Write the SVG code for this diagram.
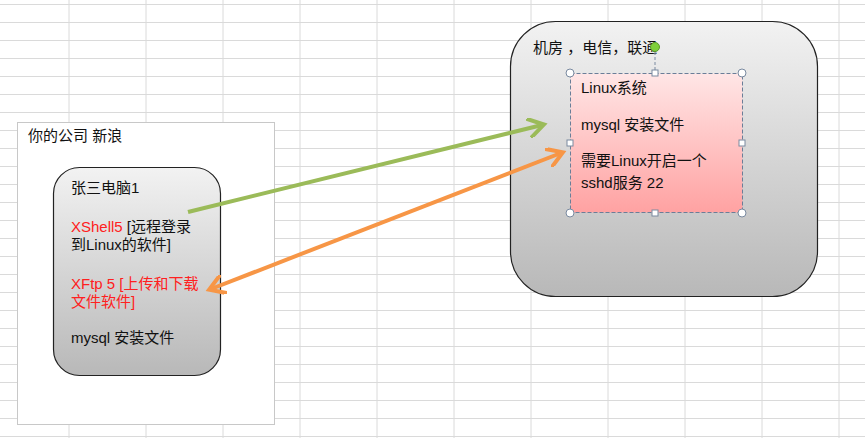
<svg xmlns="http://www.w3.org/2000/svg" width="865" height="438" viewBox="0 0 865 438">
<style>
.t{font-family:"Liberation Sans","Noto Sans CJK SC",sans-serif;font-size:15px;fill:#111}
.r{fill:#ff2020}
.g{stroke:#dadada;stroke-width:1}
.h{fill:#fff;stroke:#7a8aa0;stroke-width:1}
</style>
<defs>
<linearGradient id="gg" x1="0" y1="0" x2="0" y2="1"><stop offset="0" stop-color="#f2f2f2"/><stop offset="1" stop-color="#b8b8b8"/></linearGradient>
<linearGradient id="pg" x1="0" y1="0" x2="0" y2="1"><stop offset="0" stop-color="#ffe6e6"/><stop offset="1" stop-color="#ffa2a2"/></linearGradient>
<marker id="ag" viewBox="0 0 10 10" refX="7" refY="5" markerWidth="5" markerHeight="5" orient="auto-start-reverse"><path d="M0,0 L8,5 L0,10" fill="none" stroke="#9bbb59" stroke-width="2"/></marker>
<marker id="ao" viewBox="0 0 10 10" refX="7" refY="5" markerWidth="5" markerHeight="5" orient="auto-start-reverse"><path d="M0,0 L8,5 L0,10" fill="none" stroke="#f79646" stroke-width="2"/></marker>
</defs>
<rect width="865" height="438" fill="#fff"/>
<g id="grid">
<path class="g" d="M69,0V438M146,0V438M223,0V438M300,0V438M377,0V438M454,0V438M531,0V438M608,0V438M685,0V438M762,0V438M839,0V438"/>
<path class="g" d="M0,4.5H865M0,22.5H865M0,40.5H865M0,58.5H865M0,76.5H865M0,94.5H865M0,112.5H865M0,130.5H865M0,148.5H865M0,166.5H865M0,184.5H865M0,202.5H865M0,220.5H865M0,238.5H865M0,256.5H865M0,274.5H865M0,292.5H865M0,310.5H865M0,328.5H865M0,346.5H865M0,364.5H865M0,382.5H865M0,400.5H865M0,418.5H865M0,436.5H865"/>
</g>
<g id="company">
<rect x="17.5" y="122.5" width="257" height="302" fill="#fff" stroke="#c8c8c8"/>
<text class="t" x="28" y="141">你的公司 新浪</text>
</g>
<g id="computer">
<rect x="53.5" y="167.5" width="167" height="208" rx="26" fill="url(#gg)" stroke="#222" stroke-width="1.2"/>
<text class="t" x="71" y="193">张三电脑1</text>
<text class="t" x="71" y="232"><tspan class="r">XShell5</tspan> [远程登录</text>
<text class="t" x="71" y="250">到Linux的软件]</text>
<text class="t r" x="71" y="289">XFtp 5 [上传和下载</text>
<text class="t r" x="71" y="307">文件软件]</text>
<text class="t" x="71" y="343">mysql 安装文件</text>
</g>
<g id="room">
<rect x="510.5" y="21.5" width="307" height="275" rx="45" fill="url(#gg)" stroke="#222" stroke-width="1.2"/>
<text class="t" x="533" y="53">机房 ，电信，联通</text>
</g>
<g id="linux">
<line x1="655" y1="47" x2="655" y2="73" stroke="#7a8aa0" stroke-dasharray="3,2"/>
<rect x="570.5" y="73.5" width="172" height="139" fill="url(#pg)" stroke="#6a7e98" stroke-dasharray="4,2"/>
<text class="t" x="581" y="93">Linux系统</text>
<text class="t" x="581" y="130">mysql 安装文件</text>
<text class="t" x="581" y="166">需要Linux开启一个</text>
<text class="t" x="581" y="188">sshd服务 22</text>
<circle cx="655" cy="47" r="4.5" fill="#7ed03a" stroke="#5a9a2a"/>
<circle class="h" cx="570" cy="73" r="4"/><circle class="h" cx="742" cy="73" r="4"/>
<circle class="h" cx="570" cy="213" r="4"/><circle class="h" cx="742" cy="213" r="4"/>
<rect class="h" x="652" y="70" width="6" height="6"/><rect class="h" x="652" y="210" width="6" height="6"/>
<rect class="h" x="567" y="140" width="6" height="6"/><rect class="h" x="739" y="140" width="6" height="6"/>
</g>
<g id="connectors" fill="none" stroke-width="4">
<line x1="188" y1="212" x2="542" y2="125" stroke="#9bbb59" marker-end="url(#ag)"/>
<line x1="211" y1="289" x2="561" y2="153" stroke="#f79646" marker-start="url(#ao)" marker-end="url(#ao)"/>
</g>
</svg>
